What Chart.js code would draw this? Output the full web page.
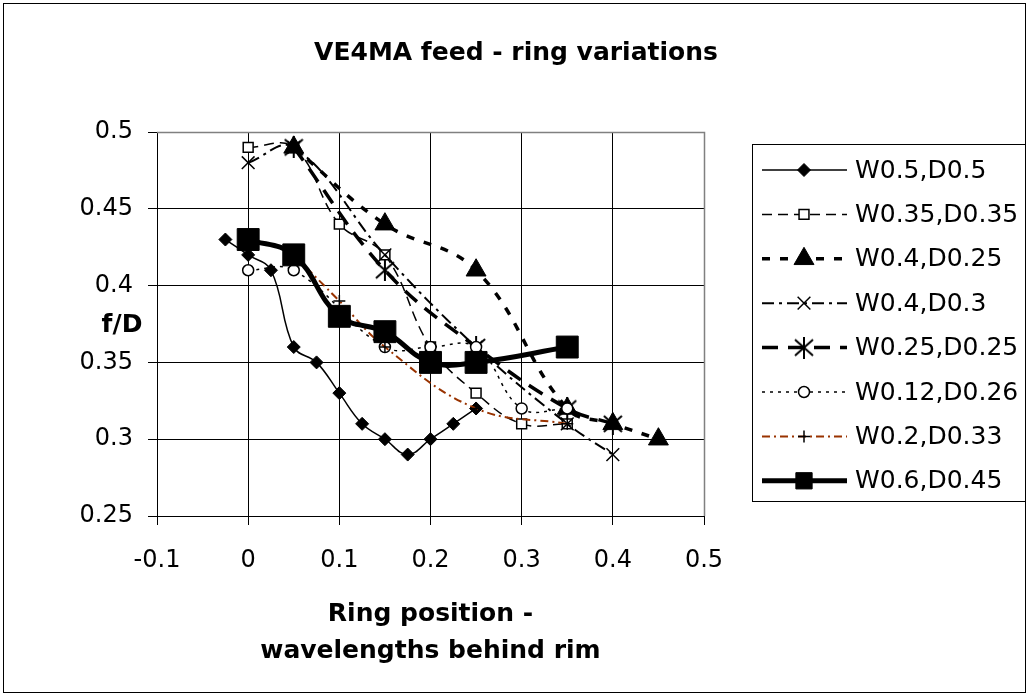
<!DOCTYPE html>
<html>
<head>
<meta charset="utf-8">
<script src="https://cdn.jsdelivr.net/npm/chart.js@4.4.0/dist/chart.umd.min.js"></script>
<style>
  body { margin: 0; background: #fff; }
  #wrap { width: 1028px; height: 696px; }
</style>
</head>
<body>
<div id="wrap"><canvas id="ringChart"></canvas></div>
<script>
// values
const seriesNames = ['W0.5,D0.5', 'W0.35,D0.35', 'W0.4,D0.25', 'W0.4,D0.3',
                     'W0.25,D0.25', 'W0.12,D0.26', 'W0.2,D0.33', 'W0.6,D0.45'];

const xW05D05 = [-0.025, 0, 0.025, 0.05, 0.075, 0.1, 0.125, 0.15, 0.175, 0.2, 0.225, 0.25];
const yW05D05 = [0.43, 0.42, 0.41, 0.36, 0.35, 0.33, 0.31, 0.30, 0.29, 0.30, 0.31, 0.32];

const xW035D035 = [0, 0.05, 0.1, 0.15, 0.2, 0.25, 0.3, 0.35];
const yW035D035 = [0.49, 0.49, 0.44, 0.42, 0.36, 0.33, 0.31, 0.31];

const xW04D025 = [0.05, 0.15, 0.25, 0.35, 0.4, 0.45];
const yW04D025 = [0.49, 0.44, 0.41, 0.32, 0.31, 0.30];

const xW04D03 = [0, 0.05, 0.15, 0.25, 0.35, 0.4];
const yW04D03 = [0.48, 0.49, 0.42, 0.36, 0.31, 0.29];

const xW025D025 = [0.05, 0.15, 0.25, 0.35, 0.4];
const yW025D025 = [0.49, 0.41, 0.36, 0.32, 0.31];

const xW012D026 = [0, 0.05, 0.15, 0.2, 0.25, 0.3, 0.35];
const yW012D026 = [0.41, 0.41, 0.36, 0.36, 0.36, 0.32, 0.32];

const xW02D033 = [0.05, 0.1, 0.15, 0.25, 0.35];
const yW02D033 = [0.42, 0.39, 0.36, 0.32, 0.31];

const xW06D045 = [0, 0.05, 0.1, 0.15, 0.2, 0.25, 0.35];
const yW06D045 = [0.43, 0.42, 0.38, 0.37, 0.35, 0.35, 0.36];

const xTickLabels = ['-0.1', '0', '0.1', '0.2', '0.3', '0.4', '0.5'];
const yTickLabels = ['0.25', '0.3', '0.35', '0.4', '0.45', '0.5'];

function toPoints(xs, ys) {
    return xs.map(function(x, i) { return { x: x, y: ys[i] }; });
}

// asterisk marker (x with a vertical bar), not built into Chart.js
function makeAsterisk() {
    let c = document.createElement('canvas');
    c.width = 20;
    c.height = 22;
    let g = c.getContext('2d');
    g.strokeStyle = '#000';
    g.lineWidth = 2;
    g.beginPath();
    g.moveTo(1, 3); g.lineTo(19, 19);
    g.moveTo(19, 3); g.lineTo(1, 19);
    g.moveTo(10, 0); g.lineTo(10, 22);
    g.stroke();
    return c;
}

const FONT = 'DejaVu Sans';
Chart.defaults.font.family = FONT;
Chart.defaults.color = '#000';

function series(label, xs, ys, opts) {
    return Object.assign({
        label: label,
        data: toPoints(xs, ys),
        showLine: true,
        fill: false,
        tension: 0.4,
        borderColor: '#000',
        borderWidth: 1.5,
        pointBorderColor: '#000',
        pointBackgroundColor: '#000',
        pointBorderWidth: 1,
        pointHoverRadius: 0
    }, opts);
}

const datasets = [
    series(seriesNames[0], xW05D05, yW05D05, { pointStyle: 'rectRot', pointRadius: 6.5 }),
    series(seriesNames[1], xW035D035, yW035D035, { borderDash: [10, 6], pointStyle: 'rect', pointRadius: 7, pointBackgroundColor: '#fff', pointBorderWidth: 1.5 }),
    series(seriesNames[2], xW04D025, yW04D025, { borderWidth: 3.5, borderDash: [8, 10], pointStyle: 'triangle', pointRadius: 11.5 }),
    series(seriesNames[3], xW04D03, yW04D03, { borderWidth: 2, borderDash: [12, 5, 3, 5], pointStyle: 'crossRot', pointRadius: 9, pointBorderWidth: 1.5 }),
    series(seriesNames[4], xW025D025, yW025D025, { borderWidth: 3.5, borderDash: [16, 10], pointStyle: makeAsterisk(), pointRadius: 10 }),
    series(seriesNames[5], xW012D026, yW012D026, { borderDash: [3, 5], pointStyle: 'circle', pointRadius: 5.5, pointBackgroundColor: '#fff', pointBorderWidth: 1.5 }),
    series(seriesNames[6], xW02D033, yW02D033, { borderColor: '#993300', borderWidth: 2, borderDash: [8, 4, 2, 4], pointStyle: 'cross', pointRadius: 6, pointBorderWidth: 1.5 }),
    series(seriesNames[7], xW06D045, yW06D045, { borderWidth: 5, pointStyle: 'rect', pointRadius: 15.5 })
];
// later series sit on top, like in the original
datasets.forEach(function(d, i) { d.order = -i; });

const decorPlugin = {
    id: 'decor',
    beforeDatasetsDraw: function(chart) {
        let ctx = chart.ctx, a = chart.chartArea;
        ctx.save();
        ctx.strokeStyle = '#808080';
        ctx.lineWidth = 1.5;
        ctx.beginPath();
        ctx.moveTo(a.left, a.top + 0.5);
        ctx.lineTo(a.right + 0.5, a.top + 0.5);
        ctx.lineTo(a.right + 0.5, a.bottom);
        ctx.stroke();
        ctx.restore();
    },
    afterDraw: function(chart) {
        let ctx = chart.ctx, a = chart.chartArea;
        ctx.save();
        // outer frame
        ctx.strokeStyle = '#000';
        ctx.lineWidth = 1;
        ctx.strokeRect(3.5, 3.5, 1022, 689);

        ctx.fillStyle = '#000';
        ctx.textAlign = 'center';
        ctx.textBaseline = 'middle';
        ctx.font = 'bold 25px ' + FONT;
        ctx.fillText('VE4MA feed - ring variations', 516, 53);
        ctx.fillText('f/D', 122, 325);
        let cx = (a.left + a.right) / 2;
        ctx.fillText('Ring position -', cx, 614);
        ctx.fillText('wavelengths behind rim', cx, 651);

        // legend
        ctx.strokeRect(752.5, 144.5, 273, 357);
        ctx.textAlign = 'left';
        ctx.font = '25px ' + FONT;
        chart.data.datasets.forEach(function(d, i) {
            let y = 170 + i * 44.4;
            ctx.save();
            ctx.strokeStyle = d.borderColor;
            ctx.lineWidth = d.borderWidth;
            ctx.setLineDash(d.borderDash || []);
            ctx.beginPath();
            ctx.moveTo(762, y);
            ctx.lineTo(847, y);
            ctx.stroke();
            ctx.restore();
            ctx.save();
            ctx.strokeStyle = d.pointBorderColor;
            ctx.fillStyle = d.pointBackgroundColor;
            ctx.lineWidth = d.pointBorderWidth;
            Chart.helpers.drawPoint(ctx, {
                pointStyle: d.pointStyle,
                radius: Math.min(d.pointRadius, 11.5),
                rotation: 0,
                borderWidth: d.pointBorderWidth
            }, 804, y);
            ctx.restore();
            ctx.fillText(d.label, 855, y + 1);
        });
        ctx.restore();
    }
};

new Chart(document.getElementById('ringChart'), {
    type: 'scatter',
    data: { datasets: datasets },
    options: {
        responsive: true,
        maintainAspectRatio: false,
        animation: false,
        events: [],
        layout: {
            padding: { left: 70, right: 324, top: 132, bottom: 120 }
        },
        plugins: {
            legend: { display: false },
            title: { display: false },
            tooltip: { enabled: false }
        },
        scales: {
            x: {
                type: 'linear',
                min: -0.1,
                max: 0.5,
                afterFit: function(scale) { scale.height = 60; },
                afterBuildTicks: function(scale) {
                    scale.ticks = xTickLabels.map(function(t) { return { value: parseFloat(t) }; });
                },
                ticks: {
                    font: { size: 24 },
                    padding: 21,
                    maxRotation: 0,
                    callback: function(value, index) { return xTickLabels[index]; }
                },
                grid: { color: '#000', lineWidth: 1, tickLength: 9, tickColor: '#000' },
                border: { color: '#000', width: 1 }
            },
            y: {
                min: 0.25,
                max: 0.5,
                afterFit: function(scale) { scale.width = 87; },
                afterBuildTicks: function(scale) {
                    scale.ticks = yTickLabels.map(function(t) { return { value: parseFloat(t) }; });
                },
                ticks: {
                    font: { size: 24 },
                    padding: 15,
                    callback: function(value, index) { return yTickLabels[index]; }
                },
                grid: { color: '#000', lineWidth: 1, tickLength: 9, tickColor: '#000' },
                border: { color: '#000', width: 1 }
            }
        }
    },
    plugins: [decorPlugin]
});
</script>
</body>
</html>
